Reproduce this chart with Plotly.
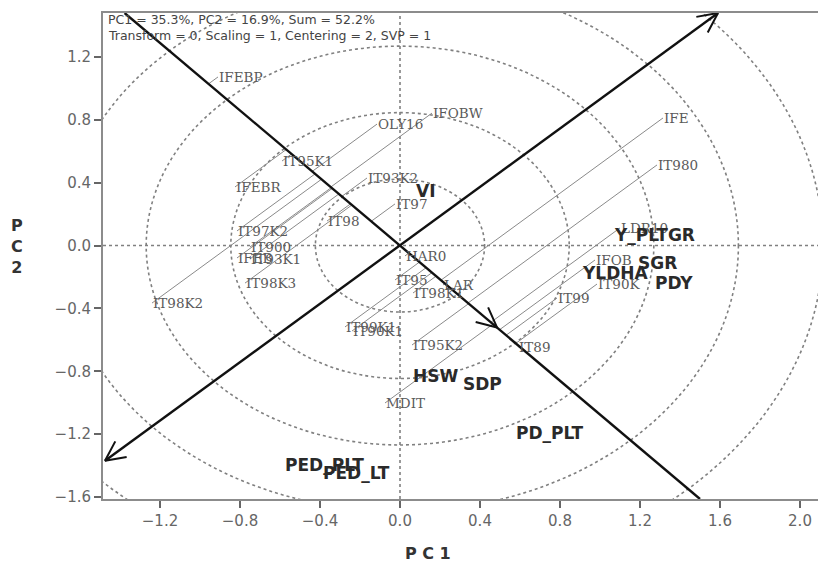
import math
import plotly.graph_objects as go

# ---------------- data ----------------
X_RANGE = [-1.485, 2.09]
Y_RANGE = [-1.613, 1.48]
x_ticks = [-1.2, -0.8, -0.4, 0.0, 0.4, 0.8, 1.2, 1.6, 2.0]
y_ticks = [-1.6, -1.2, -0.8, -0.4, 0.0, 0.4, 0.8, 1.2]

geno_names = ["IFEBP", "OLY16", "IFOBW", "IT95K1", "IT93K2", "IFEBR", "IT97", "IT98",
              "IT97K2", "IT900", "IFEB", "IT93K1", "IT98K3", "IT98K2", "HAR0", "IT95",
              "LAR", "IT98K1", "IT99K1", "IT90K1", "IT95K2", "IT89", "MDIT", "IFE",
              "IT980", "LDR10", "IFOB", "IT90K", "IT99"]
geno_x = [-0.91, -0.115, 0.16, -0.59, -0.165, -0.825, -0.025, -0.365,
          -0.815, -0.75, -0.815, -0.75, -0.775, -1.24, 0.025, -0.025,
          0.215, 0.065, -0.275, -0.24, 0.06, 0.59, -0.075, 1.315,
          1.285, 1.10, 0.975, 0.985, 0.785]
geno_y = [1.073, 0.773, 0.843, 0.538, 0.43, 0.373, 0.265, 0.156,
          0.093, -0.009, -0.079, -0.085, -0.239, -0.366, -0.066, -0.219,
          -0.251, -0.302, -0.518, -0.544, -0.633, -0.646, -1.002, 0.812,
          0.513, 0.112, -0.092, -0.245, -0.334]

trait_names = ["VI", "Y_PLTGR", "SGR", "YLDHA", "PDY", "HSW", "SDP", "PD_PLT",
               "PED_PLT", "PED_LT"]
trait_x = [0.125, 1.27, 1.285, 1.075, 1.37, 0.175, 0.41, 0.75, -0.38, -0.22]
trait_y = [0.347, 0.067, -0.111, -0.175, -0.238, -0.83, -0.88, -1.193, -1.397, -1.448]

aea_x = [-1.475, 1.59]          # average environment axis (arrow tips)
aea_y = [-1.37, 1.48]
ord_x = [-1.377, 1.50]          # perpendicular axis through origin
ord_y = [1.48, -1.613]
ord_arrow = [0.485, -0.521]
ring_step = 0.423
n_rings = 5

info_lines = ["PC1 = 35.3%, PC2 = 16.9%, Sum = 52.2%",
              "Transform = 0, Scaling = 1, Centering = 2, SVP = 1"]

# ---------------- geometry helpers ----------------
W, H = 818, 564
ML, MR, MT, MB = 103, 0, 13, 65
PW, PH = W - ML - MR, H - MT - MB
sx = PW / (X_RANGE[1] - X_RANGE[0])
sy = PH / (Y_RANGE[1] - Y_RANGE[0])

m1 = (aea_y[1] - aea_y[0]) / (aea_x[1] - aea_x[0])
m2 = (ord_y[1] - ord_y[0]) / (ord_x[1] - ord_x[0])


def vhead(tip, d, length=22, ang=26):
    ux, uy = d[0] * sx, d[1] * sy
    n = math.hypot(ux, uy)
    ux, uy = -ux / n, -uy / n
    pts = []
    for s in (1, -1):
        a = math.radians(ang * s)
        wx = ux * math.cos(a) - uy * math.sin(a)
        wy = ux * math.sin(a) + uy * math.cos(a)
        pts.append((tip[0] + wx * length / sx, tip[1] + wy * length / sy))
    return [pts[0][0], tip[0], pts[1][0], None], [pts[0][1], tip[1], pts[1][1], None]


fig = go.Figure()

# projection lines (genotype -> perpendicular axis, parallel to AEA)
px_, py_ = [], []
for gx, gy in zip(geno_x, geno_y):
    t = (m2 * gx - gy) / (m1 - m2)
    px_ += [gx, gx + t, None]
    py_ += [gy, gy + m1 * t, None]
fig.add_trace(go.Scatter(x=px_, y=py_, mode="lines",
                         line=dict(color="#8a8a8a", width=1), hoverinfo="skip"))

# main axes
fig.add_trace(go.Scatter(x=aea_x, y=aea_y, mode="lines",
                         line=dict(color="#111111", width=2.4), hoverinfo="skip"))
fig.add_trace(go.Scatter(x=ord_x, y=ord_y, mode="lines",
                         line=dict(color="#111111", width=2.4), hoverinfo="skip"))

# arrow heads
hx, hy = [], []
for tip, d in [((aea_x[1], aea_y[1]), (1, m1)),
               ((aea_x[0], aea_y[0]), (-1, -m1)),
               ((ord_arrow[0], ord_arrow[1]), (1, m2))]:
    a, b = vhead(tip, d)
    hx += a
    hy += b
fig.add_trace(go.Scatter(x=hx, y=hy, mode="lines",
                         line=dict(color="#111111", width=2), hoverinfo="skip"))

shapes = []
dot = dict(color="#808080", width=1.6, dash="dot")
for k in range(1, n_rings + 1):
    r = k * ring_step
    shapes.append(dict(type="circle", xref="x", yref="y", x0=-r, x1=r, y0=-r, y1=r,
                       line=dot, layer="below"))
shapes.append(dict(type="line", xref="x", yref="y", x0=X_RANGE[0], x1=X_RANGE[1],
                   y0=0, y1=0, line=dot, layer="below"))
shapes.append(dict(type="line", xref="x", yref="y", x0=0, x1=0,
                   y0=Y_RANGE[0], y1=Y_RANGE[1], line=dot, layer="below"))

ann = []
for n, x, y in zip(geno_names, geno_x, geno_y):
    ann.append(dict(x=x, y=y, xref="x", yref="y", text=n, showarrow=False,
                    xanchor="left", yanchor="middle", borderpad=0,
                    font=dict(family="DejaVu Serif", size=13.5, color="#5a5a5a")))
for n, x, y in zip(trait_names, trait_x, trait_y):
    ann.append(dict(x=x, y=y, xref="x", yref="y", text="<b>%s</b>" % n, showarrow=False,
                    xanchor="center", yanchor="middle", borderpad=0,
                    font=dict(family="DejaVu Sans", size=17, color="#2a2a2a")))
for i, line in enumerate(info_lines):
    ann.append(dict(x=3 / PW, y=1 - (7 + 15 * i) / PH, xref="paper", yref="paper",
                    text=line, showarrow=False, xanchor="left", yanchor="middle",
                    font=dict(family="DejaVu Sans", size=12.5, color="#444444")))
ann.append(dict(x=(428 - ML) / PW, y=-(553 - MT - PH) / PH, xref="paper", yref="paper",
                text="<b>P C 1</b>", showarrow=False, xanchor="center", yanchor="middle",
                font=dict(family="DejaVu Sans", size=16, color="#333333")))
ann.append(dict(x=(17 - ML) / PW, y=(MT + PH - 246) / PH, xref="paper", yref="paper",
                text="<b>P<br>C<br>2</b>", showarrow=False, xanchor="center", yanchor="middle",
                font=dict(family="DejaVu Sans", size=16, color="#333333")))

axis_common = dict(showgrid=False, zeroline=False, showline=True, linecolor="#8c8c8c",
                   linewidth=2, ticks="outside", ticklen=7, tickwidth=1.5,
                   tickcolor="#666666", tickformat=".1f",
                   tickfont=dict(family="DejaVu Sans", size=15, color="#666666"))

fig.update_layout(
    width=W, height=H, margin=dict(l=ML, r=MR, t=MT, b=MB),
    paper_bgcolor="white", plot_bgcolor="white", showlegend=False,
    hovermode=False, shapes=shapes, annotations=ann,
    xaxis=dict(range=X_RANGE, tickvals=x_ticks, mirror=True, **axis_common),
    yaxis=dict(range=Y_RANGE, tickvals=y_ticks, **axis_common),
)

fig.write_html(
    "out.html",
    config={"displayModeBar": False},
    post_script="document.body.style.margin='0';document.body.style.padding='0';"
                "document.body.style.overflow='hidden';",
)
